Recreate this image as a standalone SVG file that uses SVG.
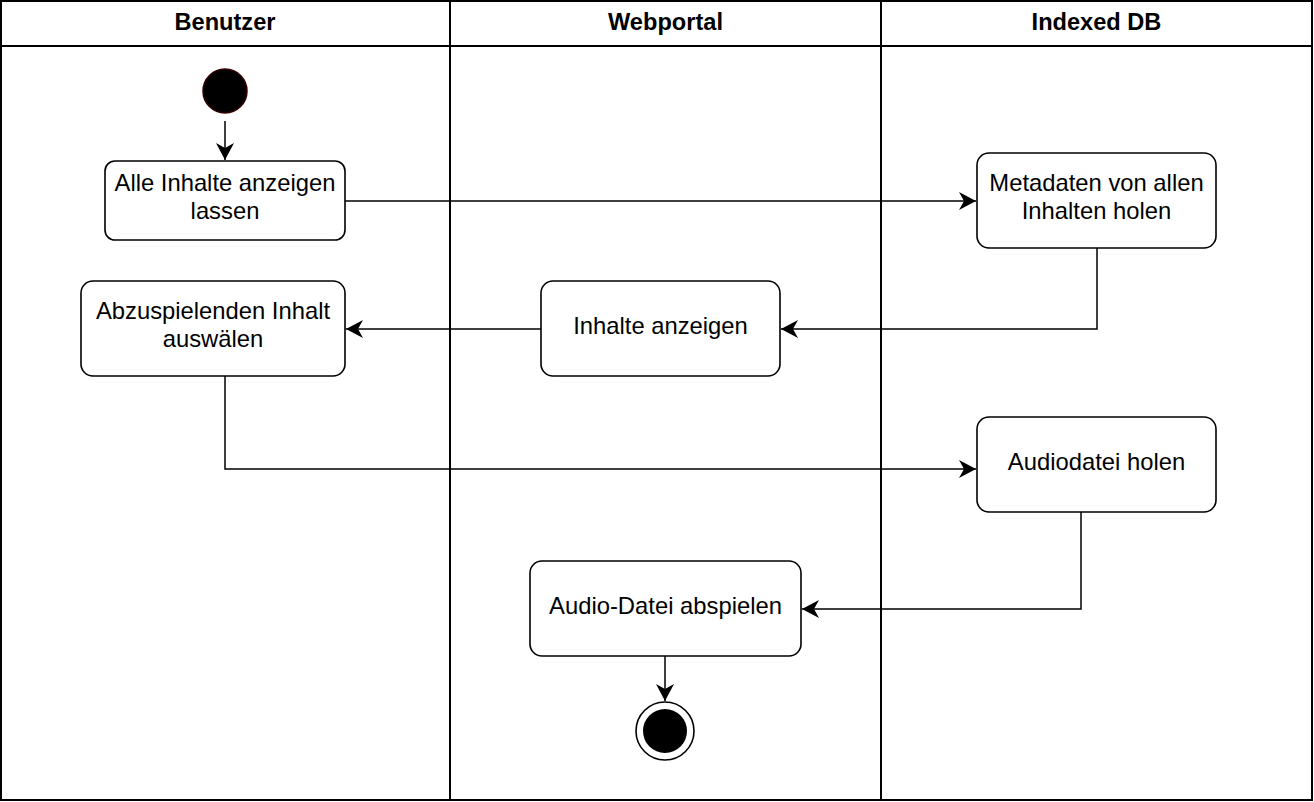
<svg xmlns="http://www.w3.org/2000/svg" width="1314" height="802" viewBox="0 0 1314 802">
<style>
.lane{fill:none;stroke:#000;stroke-width:2}
.node rect{fill:#fff;stroke:#000;stroke-width:1.6}
.lbl{font-family:"Liberation Sans",Arial,sans-serif;font-size:23.8px;fill:#000;text-anchor:middle}
.hdr{font-family:"Liberation Sans",Arial,sans-serif;font-size:23.6px;font-weight:bold;fill:#000;text-anchor:middle}
.edge{fill:none;stroke:#000;stroke-width:1.5;marker-end:url(#arr)}
</style>
<defs>
<marker id="arr" markerUnits="userSpaceOnUse" viewBox="0 0 17 18" markerWidth="17" markerHeight="18" refX="17" refY="9" orient="auto">
<path d="M17,9 L0,0 L5,9 L0,18 Z" fill="#000"/>
</marker>
</defs>
<rect width="1314" height="802" fill="#fff"/>
<g id="lanes">
<rect class="lane" x="1" y="1" width="1311" height="799"/>
<line class="lane" x1="1" y1="46" x2="1312" y2="46"/>
<line class="lane" x1="450" y1="1" x2="450" y2="800"/>
<line class="lane" x1="881" y1="1" x2="881" y2="800"/>
<text class="hdr" x="225" y="30">Benutzer</text>
<text class="hdr" x="665.5" y="30">Webportal</text>
<text class="hdr" x="1096.5" y="30">Indexed DB</text>
</g>
<g id="connectors">
<polyline class="edge" points="225,121 225,160"/>
<polyline class="edge" points="345,201 976,201"/>
<polyline class="edge" points="1097,248 1097,329 781,329"/>
<polyline class="edge" points="541,329 346,329"/>
<polyline class="edge" points="225,376 225,469 976,469"/>
<polyline class="edge" points="1081,512 1081,609 802,609"/>
<polyline class="edge" points="665,656 665,701"/>
</g>
<g id="start"><circle cx="225" cy="91" r="22" fill="#000" stroke="#300" stroke-width="1.5"/></g>
<g id="n1" class="node"><rect x="105" y="161" width="240" height="79" rx="10"/>
<text class="lbl" x="225" y="191">Alle Inhalte anzeigen</text><text class="lbl" x="225" y="219">lassen</text></g>
<g id="n2" class="node"><rect x="977" y="153" width="239" height="95" rx="12"/>
<text class="lbl" x="1096.5" y="191">Metadaten von allen</text><text class="lbl" x="1096.5" y="219">Inhalten holen</text></g>
<g id="n3" class="node"><rect x="81" y="281" width="264" height="95" rx="12"/>
<text class="lbl" x="213" y="319">Abzuspielenden Inhalt</text><text class="lbl" x="213" y="347">auswälen</text></g>
<g id="n4" class="node"><rect x="541" y="281" width="239" height="95" rx="12"/>
<text class="lbl" x="660.5" y="334">Inhalte anzeigen</text></g>
<g id="n5" class="node"><rect x="977" y="417" width="239" height="95" rx="12"/>
<text class="lbl" x="1096.5" y="470">Audiodatei holen</text></g>
<g id="n6" class="node"><rect x="530" y="561" width="271" height="95" rx="12"/>
<text class="lbl" x="665.5" y="614">Audio-Datei abspielen</text></g>
<g id="end"><circle cx="665" cy="731" r="29" fill="#fff" stroke="#000" stroke-width="1.6"/><circle cx="665" cy="731" r="22" fill="#000"/></g>
</svg>
